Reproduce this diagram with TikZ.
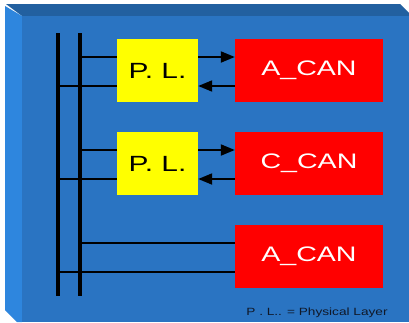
\documentclass[tikz,border=0pt]{standalone}
\usepackage{fontspec}
\setmainfont{Liberation Sans}
\newfontfamily\widesans[FakeStretch=1.36]{Liberation Sans}
\newfontfamily\notesans[FakeStretch=1.3]{Liberation Sans}
\usetikzlibrary{arrows.meta}
\definecolor{front}{HTML}{2A74C2}
\definecolor{topbev}{HTML}{2260A0}
\definecolor{leftbev}{HTML}{2E86DE}
\definecolor{plyellow}{HTML}{FFFF00}
\definecolor{canred}{HTML}{FF0000}
\definecolor{foot}{HTML}{101828}
\tikzset{
  plbox/.style={fill=plyellow, draw=none, minimum width=81pt, minimum height=63pt, inner sep=0pt, font=\widesans\fontsize{22}{24}\selectfont, text=black},
  canbox/.style={fill=canred, draw=none, minimum width=148pt, minimum height=63pt, inner sep=0pt, font=\widesans\fontsize{21}{23}\selectfont, text=white},
  bus/.style={line width=3.5pt, black},
  wire/.style={line width=2pt, black},
  sig/.style={line width=2pt, black, -{Triangle[length=14pt,width=11pt]}},
}
\begin{document}
\begin{tikzpicture}[x=1pt,y=-1pt]
\useasboundingbox (0,0) rectangle (409,322);
\fill[white] (0,0) rectangle (409,322);
% box bevels
\fill[topbev] (6,4) -- (400,4) -- (409,13) -- (409,16) -- (22,16) -- cycle;
\fill[leftbev] (5,6) -- (22,16) -- (22,322) -- (17,322) -- (5,310) -- cycle;
\fill[front] (22,16) rectangle (409,322);
% nodes
\node[plbox] (pl1) at (157.5,70.5) {P. L.};
\node[plbox] (pl2) at (157.5,163.5) {P. L.};
\node[canbox] (can1) at (309,70.5) {A\_CAN};
\node[canbox] (can2) at (309,163.5) {C\_CAN};
\node[canbox] (can3) at (309,256) {A\_CAN};
% bus
\coordinate (b1t) at (58,33);
\coordinate (b1b) at (58,296);
\coordinate (b2t) at (80,33);
\coordinate (b2b) at (80,296);
\draw[bus] (b1t) -- (b1b);
\draw[bus] (b2t) -- (b2b);
% wires to bus
\draw[wire] (b2t |- 0,57) -- (pl1.west |- 0,57);
\draw[wire] (b1t |- 0,86) -- (pl1.west |- 0,86);
\draw[wire] (b2t |- 0,150) -- (pl2.west |- 0,150);
\draw[wire] (b1t |- 0,179) -- (pl2.west |- 0,179);
\draw[wire] (b2t |- 0,243) -- (can3.west |- 0,243);
\draw[wire] (b1t |- 0,272) -- (can3.west |- 0,272);
% signals
\draw[sig] (pl1.east |- 0,57) -- (can1.west |- 0,57);
\draw[sig] (can1.west |- 0,86) -- (pl1.east |- 0,86);
\draw[sig] (pl2.east |- 0,150) -- (can2.west |- 0,150);
\draw[sig] (can2.west |- 0,179) -- (pl2.east |- 0,179);
% footnote
\node[font=\notesans\fontsize{10.5}{12}\selectfont, text=foot, anchor=base] (note) at (317,315) {P . L.. = Physical Layer};
\end{tikzpicture}
\end{document}
